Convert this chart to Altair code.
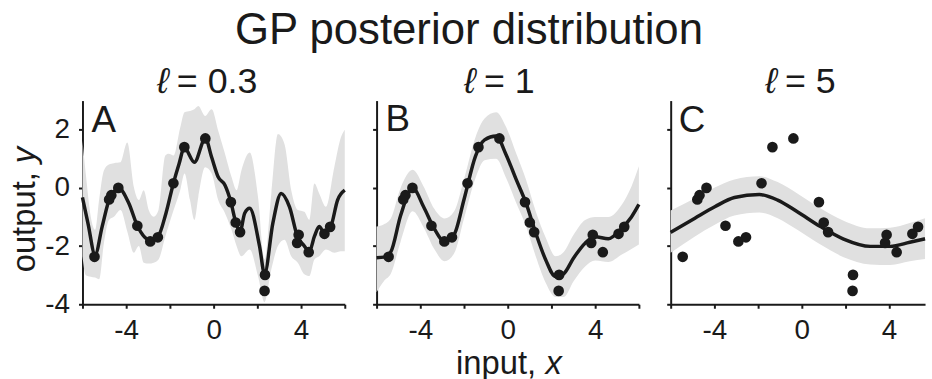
import altair as alt
import pandas as pd

# ---- observed data (same in all panels) ----
obs_x = [-5.45, -4.78, -4.68, -4.36, -3.49, -2.90, -2.55, -1.84, -1.34, -0.38,
         0.79, 1.01, 1.21, 2.33, 2.35, 3.82, 3.89, 4.35, 5.07, 5.33]
obs_y = [-2.37, -0.40, -0.25, 0.00, -1.30, -1.84, -1.70, 0.16, 1.40, 1.70,
         -0.49, -1.19, -1.52, -3.54, -2.99, -1.89, -1.61, -2.21, -1.58, -1.34]

# ---- panel A (l = 0.3) ----
a_mean_x = [-6.0, -5.75, -5.42, -5.1, -4.74, -4.6, -4.36, -3.88, -3.49, -2.9, -2.55, -2.18, -1.84,
            -1.58, -1.34, -0.88, -0.38, -0.09, 0.21, 0.52, 0.79, 1.01, 1.21, 1.42, 1.65, 2.1, 2.33,
            2.71, 3.09, 3.47, 3.85, 4.1, 4.38, 4.61, 4.83, 5.06, 5.36, 5.67, 6.0]
a_mean_y = [-0.33, -1.21, -2.3, -1.33, -0.33, -0.18, 0.0, -0.53, -1.3, -1.8, -1.68, -0.87, 0.16,
            0.83, 1.38, 0.88, 1.7, 1.05, 0.37, 0.09, -0.49, -1.17, -1.5, -0.87, -0.7, -2.0, -2.95,
            -1.21, -0.19, -0.65, -1.7, -1.95, -2.18, -1.67, -1.33, -1.55, -1.33, -0.42, -0.08]
a_band_x = [-6.0, -5.85, -5.62, -5.42, -5.24, -5.02, -4.79, -4.56, -4.26, -3.95, -3.65, -3.42, -3.2,
            -2.97, -2.74, -2.52, -2.21, -2.06, -1.83, -1.53, -1.33, -1.08, -0.88, -0.7, -0.39, -0.09,
            0.21, 0.52, 0.82, 1.05, 1.27, 1.65, 2.03, 2.33, 2.64, 2.94, 3.24, 3.55, 3.85, 4.15, 4.38,
            4.61, 4.83, 5.14, 5.52, 5.82, 6.0]
a_band_hi = [1.62, 0.49, -0.99, -1.44, -0.42, 0.6, 0.8, 0.85, 0.88, 1.56, 0.03, -0.42, -0.08,
             -0.76, -0.99, -0.76, 1.11, 1.17, 1.11, 2.07, 2.6, 2.64, 2.7, 2.81, 2.47, 2.7,
             1.96, 1.17, 0.37, -0.08, 0.6, 1.22, -0.31, -2.46, -0.19, 1.85, 1.51, -0.08, -0.76, -0.82, -1.1,
             0.15, -0.19, -0.65, 0.71, 1.73, 2.0]
a_band_lo = [-2.35, -3.0, -3.05, -3.08, -3.14, -1.9, -1.1, -0.99, -0.76, -1.5, -2.23, -2.0, -2.57,
             -2.6, -2.57, -2.46, -1.67, -1.3, -0.76, -0.08, 0.49, -0.42, -1.1, -0.31, 0.71, 0.49,
             -0.42, -0.87, -1.44, -2.0, -2.35, -2.12, -3.03, -3.93, -2.8, -2.0, -1.78, -2.35, -2.57, -2.97, -3.03,
             -2.46, -2.35, -2.12, -2.23, -2.18, -2.18]

# ---- panel B (l = 1) ----
b_x = [-6.0, -5.66, -5.35, -4.9, -4.35, -3.85, -3.36, -2.89, -2.45, -2.0, -1.47, -1.06, -0.53,
       -0.08, 0.38, 0.83, 1.28, 1.73, 2.19, 2.56, 3.02, 3.54, 4.0, 4.6, 5.2, 5.66, 6.0]
b_mean = [-2.40, -2.38, -2.2, -0.95, 0.0, -0.65, -1.4, -1.84, -1.6, -0.4, 1.1, 1.65, 1.78,
          1.15, 0.3, -0.51, -1.55, -2.46, -3.05, -2.95, -2.4, -1.9, -1.68, -1.75, -1.4, -1.0, -0.57]
b_hi = [-1.33, -1.25, -1.05, 0.0, 0.62, 0.05, -0.72, -1.05, -0.8, 0.3, 1.75, 2.38, 2.6,
        2.1, 1.2, 0.3, -0.8, -1.7, -2.35, -2.2, -1.6, -1.1, -1.0, -1.0, -0.6, 0.05, 0.74]
b_lo = [-3.59, -3.2, -2.95, -1.85, -0.8, -1.35, -2.1, -2.52, -2.25, -1.05, 0.35, 0.95, 1.0,
        0.35, -0.5, -1.3, -2.35, -3.25, -3.75, -3.75, -3.2, -2.7, -2.5, -2.55, -2.3, -2.1, -1.95]

# ---- panel C (l = 5), cut off at the right edge ----
c_x = [-6.0, -4.89, -3.98, -3.08, -1.94, -1.1, -0.2, 0.86, 1.92, 3.14, 4.05, 4.95, 5.65]
c_mean = [-1.53, -1.04, -0.65, -0.33, -0.23, -0.42, -0.82, -1.33, -1.76, -2.01, -2.01, -1.87, -1.75]
c_hi = [-0.78, -0.36, 0.01, 0.29, 0.40, 0.2, -0.19, -0.7, -1.13, -1.39, -1.37, -1.21, -1.04]
c_lo = [-2.23, -1.67, -1.27, -0.95, -0.85, -1.04, -1.44, -1.95, -2.38, -2.63, -2.65, -2.52, -2.44]

ell = "ℓ"
title_values = ["= 0.3", "= 1", "= 5"]
letters = ["A", "B", "C"]

FONT = "Liberation Sans, Arial, Helvetica, sans-serif"
INK = "#1a1a1a"
BAND = "#e0e0e0"
H = 205


def txt(text, x, y, size, align="left", angle=0, style="normal"):
    return alt.Chart(pd.DataFrame({"t": [text]})).mark_text(
        align=align, baseline="alphabetic", fontSize=size, font=FONT,
        fontStyle=style, angle=angle, color=INK
    ).encode(x=alt.value(x), y=alt.value(y), text="t:N")


def panel_title(i, split):
    return [
        txt(ell, split - 8, -8, 36, align="right", style="italic"),
        txt(title_values[i], split, -8, 36, align="left"),
    ]


def panel(mx, my, bx, blo, bhi, xmax, width, show_ylabels, extra):
    xs = alt.Scale(domain=[-6, xmax], nice=False, zero=False)
    ys = alt.Scale(domain=[-4, 3], nice=False, zero=False)
    xvals = [v for v in [-6, -4, -2, 0, 2, 4, 6] if v <= xmax]
    xaxis = alt.Axis(values=xvals, labelOverlap=False, labelFlush=False,
                     labelExpr="datum.value % 4 == 0 ? toString(datum.value) : ''")
    yaxis = alt.Axis(values=[-4, -3, -2, -1, 0, 1, 2, 3], labels=show_ylabels,
                     labelOverlap=False,
                     labelExpr="datum.value % 2 == 0 ? toString(datum.value) : ''")
    band = alt.Chart(pd.DataFrame({"x": bx, "lo": blo, "hi": bhi})).mark_area(
        color=BAND, interpolate="monotone"
    ).encode(
        x=alt.X("x:Q", scale=xs, axis=xaxis, title=None),
        y=alt.Y("lo:Q", scale=ys, axis=yaxis, title=None),
        y2="hi:Q",
    )
    line = alt.Chart(pd.DataFrame({"x": mx, "y": my})).mark_line(
        color=INK, strokeWidth=3.5, interpolate="monotone"
    ).encode(x="x:Q", y="y:Q")
    pts = alt.Chart(pd.DataFrame({"x": obs_x, "y": obs_y})).mark_circle(
        color=INK, size=115, opacity=1
    ).encode(x="x:Q", y="y:Q")
    return alt.layer(band, line, pts, *extra).properties(width=width, height=H)


# invisible frame that pins the whole 932x379 page
pin = alt.Chart(pd.DataFrame({"k": [0]})).mark_rect(opacity=0).encode(
    x=alt.value(-83), x2=alt.value(849), y=alt.value(-100), y2=alt.value(279)
)

extra_a = [
    pin,
    txt(letters[0], 9, 32, 37),
    *panel_title(0, 95),
    txt("output,", -48, 72, 33, align="right", angle=270),
    txt("y", -48, 63, 33, align="left", angle=270, style="italic"),
]
extra_b = [
    txt(letters[1], 9, 31, 37),
    *panel_title(1, 108),
    txt("GP posterior distribution", 93, -57, 44, align="center"),
    txt("input,", 80, 275, 33, align="left"),
    txt("x", 170, 275, 33, align="left", style="italic"),
]
extra_c = [
    txt(letters[2], 8, 32, 37),
    *panel_title(2, 115),
]

pa = panel(a_mean_x, a_mean_y, a_band_x, a_band_lo, a_band_hi, 6, 264, True, extra_a)
pb = panel(b_x, b_mean, b_x, b_lo, b_hi, 6, 264, False, extra_b)
pc = panel(c_x, c_mean, c_x, c_lo, c_hi, 5.65, 256, False, extra_c)

chart = alt.hconcat(pa, pb, pc, spacing=32, bounds="flush").properties(
    padding=0, background="white"
).configure_view(strokeWidth=0).configure_axis(
    grid=False, domainColor=INK, domainWidth=2, tickColor=INK, tickWidth=2, tickSize=4,
    labelFont=FONT, labelFontSize=28, labelColor=INK
).configure_axisX(labelPadding=8).configure_axisY(labelPadding=9)

chart.save("out.html", embed_options={"renderer": "svg", "actions": False})
